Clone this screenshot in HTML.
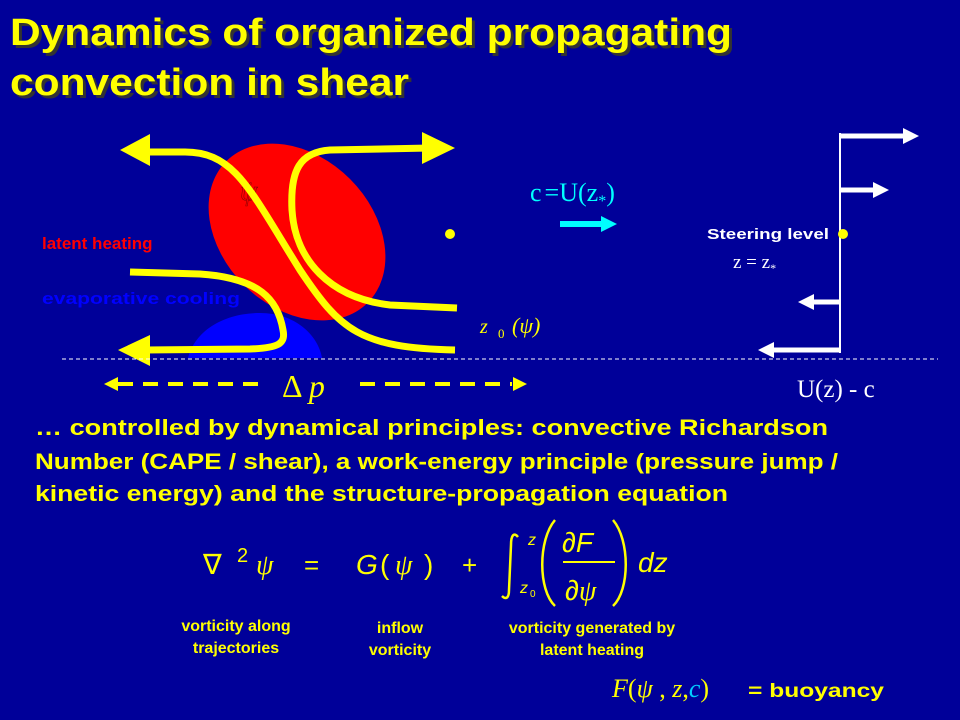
<!DOCTYPE html>
<html><head><meta charset="utf-8"><style>
body{margin:0;background:#000099;}
svg{display:block}
.b{font-family:"Liberation Sans",sans-serif;font-weight:bold}
.s{font-family:"Liberation Serif",serif}
</style></head><body>
<svg width="960" height="720" viewBox="0 0 960 720">
<rect width="960" height="720" fill="#000099"/>
<g class="b" font-size="38" fill="#ffff00">
<text x="13" y="48" fill="#333" textLength="722" lengthAdjust="spacingAndGlyphs">Dynamics of organized propagating</text>
<text x="10" y="45" textLength="722" lengthAdjust="spacingAndGlyphs">Dynamics of organized propagating</text>
<text x="13" y="98" fill="#333" textLength="399" lengthAdjust="spacingAndGlyphs">convection in shear</text>
<text x="10" y="95" textLength="399" lengthAdjust="spacingAndGlyphs">convection in shear</text>
</g>
<ellipse cx="297" cy="232" rx="100" ry="75" transform="rotate(45 297 232)" fill="#ff0000"/>
<path d="M188,358 C195,330 225,313 260,313 C295,313 318,335 322,358 Z" fill="#0000ff"/>
<text x="240" y="200" class="s" font-size="28" fill="none" stroke="#880000" stroke-width="0.6" font-style="italic">ψ</text>
<g fill="none" stroke="#ffff00" stroke-width="7">
<path d="M145,152 L185,152 C235,152 250,190 300,270 C340,330 360,348 455,350"/>
<path d="M430,148 L330,150 C300,152 290,170 292,210 C295,260 330,298 390,305 L457,308"/>
<path d="M130,272 L200,274 C260,278 278,300 283,330 C286,344 278,348 250,349 L145,350"/>
</g>
<polygon points="120,150 150,134 150,166" fill="#ffff00"/>
<polygon points="455,148 422,132 422,164" fill="#ffff00"/>
<polygon points="118,350 150,335 150,366" fill="#ffff00"/>
<text x="42" y="249" class="b" font-size="17" fill="#ff0000">latent heating</text>
<text x="42" y="304" class="b" font-size="17" fill="#0000ff" textLength="198" lengthAdjust="spacingAndGlyphs">evaporative cooling</text>
<circle cx="450" cy="234" r="5" fill="#ffff00"/>
<text x="480" y="333" class="s" font-size="20" fill="#ffff00" font-style="italic">z</text>
<text x="498" y="338" class="s" font-size="13" fill="#ffff00">0</text>
<text x="512" y="333" class="s" font-size="22" fill="#ffff00" font-style="italic">(ψ)</text>
<line x1="62" y1="359" x2="938" y2="359" stroke="#fff" stroke-width="1" stroke-dasharray="4,3"/>
<line x1="118" y1="384" x2="260" y2="384" stroke="#ffff00" stroke-width="4" stroke-dasharray="15,10"/>
<line x1="360" y1="384" x2="512" y2="384" stroke="#ffff00" stroke-width="4" stroke-dasharray="15,10"/>
<polygon points="104,384 118,377 118,391" fill="#ffff00"/>
<polygon points="527,384 513,377 513,391" fill="#ffff00"/>
<text x="282" y="397" class="s" font-size="32" fill="#ffff00">Δ <tspan font-style="italic">p</tspan></text>
<text x="530" y="201" class="s" font-size="26" fill="#00ffff">c<tspan dx="3">=</tspan>U(z<tspan font-size="16" dy="5">*</tspan><tspan dy="-5">)</tspan></text>
<line x1="560" y1="224" x2="603" y2="224" stroke="#00ffff" stroke-width="6"/>
<polygon points="617,224 601,216 601,232" fill="#00ffff"/>
<line x1="840" y1="133" x2="840" y2="353" stroke="#fff" stroke-width="2"/>
<g stroke="#fff" stroke-width="5">
<line x1="840" y1="136" x2="905" y2="136"/>
<line x1="840" y1="190" x2="875" y2="190"/>
<line x1="840" y1="302" x2="812" y2="302"/>
<line x1="840" y1="350" x2="772" y2="350"/>
</g>
<g fill="#fff">
<polygon points="919,136 903,128 903,144"/>
<polygon points="889,190 873,182 873,198"/>
<polygon points="798,302 814,294 814,310"/>
<polygon points="758,350 774,342 774,358"/>
</g>
<circle cx="843" cy="234" r="5" fill="#ffff00"/>
<text x="707" y="239" class="b" font-size="15" fill="#fff" textLength="122" lengthAdjust="spacingAndGlyphs">Steering level</text>
<text x="733" y="268" class="s" font-size="19" fill="#fff">z = z<tspan font-size="12" dy="4">*</tspan></text>
<text x="797" y="397" class="s" font-size="25" fill="#fff">U(z)  - c</text>
<g class="b" font-size="22" fill="#ffff00">
<text x="35" y="435" textLength="793" lengthAdjust="spacingAndGlyphs">…  controlled  by dynamical principles: convective Richardson</text>
<text x="35" y="469" textLength="803" lengthAdjust="spacingAndGlyphs">Number (CAPE / shear), a  work-energy principle (pressure jump /</text>
<text x="35" y="501" textLength="693" lengthAdjust="spacingAndGlyphs">kinetic energy) and the structure-propagation equation</text>
</g>
<g font-family="Liberation Sans,sans-serif" fill="#ffff00">
<text x="203" y="574" font-size="28">∇</text>
<text x="237" y="562" font-size="20">2</text>
<text x="256" y="574" font-size="28" font-style="italic" class="s">ψ</text>
<text x="304" y="574" font-size="26">=</text>
<text x="356" y="574" font-size="28" font-style="italic">G</text>
<text x="380" y="574" font-size="28">(</text>
<text x="395" y="574" font-size="28" font-style="italic" class="s">ψ</text>
<text x="424" y="574" font-size="28">)</text>
<text x="462" y="574" font-size="26">+</text>
<path d="M518,537 C514,532 511,535 511,545 L509,590 C509,598 506,600 502,596" fill="none" stroke="#ffff00" stroke-width="2.5"/>
<text x="528" y="545" font-size="16" font-style="italic">z</text>
<text x="520" y="593" font-size="16" font-style="italic">z</text>
<text x="530" y="597" font-size="10">0</text>
<path d="M555,520 C538,540 538,590 555,606" fill="none" stroke="#ffff00" stroke-width="2.5"/>
<path d="M613,520 C630,540 630,590 613,606" fill="none" stroke="#ffff00" stroke-width="2.5"/>
<text x="562" y="552" font-size="28" font-style="italic">∂F</text>
<line x1="563" y1="562" x2="615" y2="562" stroke="#ffff00" stroke-width="2"/>
<text x="565" y="600" font-size="28" font-style="italic">∂<tspan class="s">ψ</tspan></text>
<text x="638" y="572" font-size="28" font-style="italic">dz</text>
</g>
<g class="b" font-size="16" fill="#ffff00" text-anchor="middle">
<text x="236" y="631">vorticity along</text>
<text x="236" y="653">trajectories</text>
<text x="400" y="633">inflow</text>
<text x="400" y="655">vorticity</text>
<text x="592" y="633">vorticity generated by</text>
<text x="592" y="655">latent heating</text>
</g>
<text x="612" y="697" class="s" font-size="26" fill="#ffff00" font-style="italic">F<tspan font-style="normal">(</tspan>ψ<tspan font-style="normal"> , </tspan>z<tspan font-style="normal">,</tspan><tspan fill="#00ccff">c</tspan><tspan font-style="normal">)</tspan></text>
<text x="748" y="697" class="b" font-size="19" fill="#ffff00" textLength="136" lengthAdjust="spacingAndGlyphs">=  buoyancy</text>
</svg>
</body></html>
